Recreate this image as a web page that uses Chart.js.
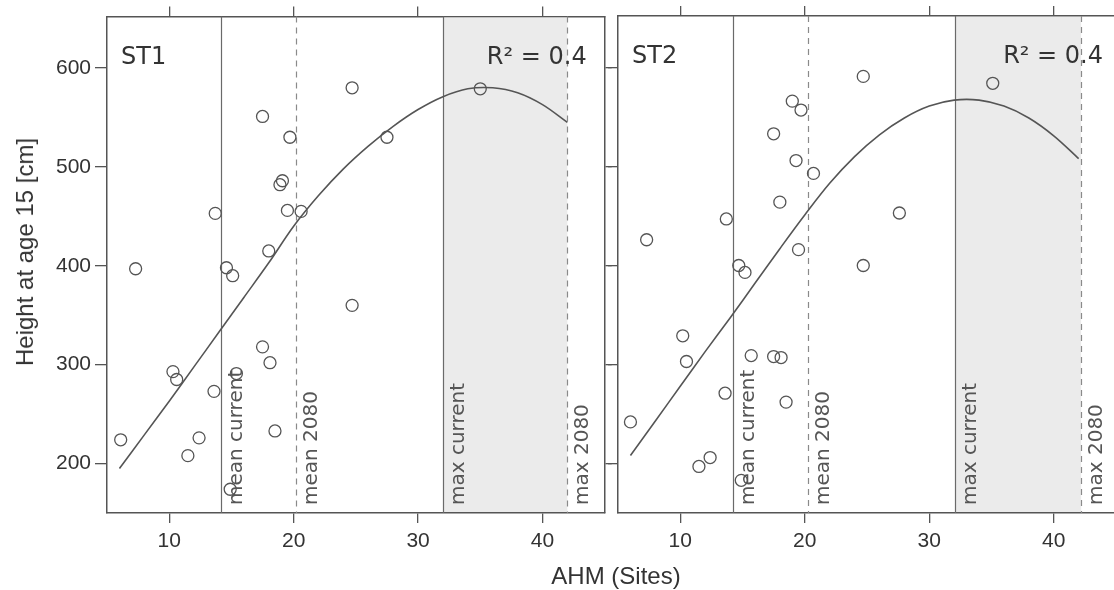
<!DOCTYPE html>
<html>
<head>
<meta charset="utf-8">
<script src="https://cdn.jsdelivr.net/npm/chart.js@4/dist/chart.umd.min.js"></script>
<style>
  html, body { margin: 0; padding: 0; background: #fff; overflow: hidden; }
  #wrap { position: relative; width: 1114px; height: 590px; overflow: hidden; }
  .panel { position: absolute; top: 0; height: 590px; }
  #p1 { left: 0; width: 612px; }
  #p2 { left: 600px; width: 530px; }
  .axTitle { position: absolute; font: 24px "Liberation Sans", Arial, sans-serif; color: #333; white-space: nowrap; line-height: 1; }
  #yTitle { left: 25px; top: 252px; transform: translate(-50%, -50%) rotate(-90deg); }
  #xTitle { left: 616px; top: 576px; transform: translate(-50%, -50%); }
</style>
</head>
<body>
<div id="wrap">
  <div class="panel" id="p1"><canvas id="chart1"></canvas></div>
  <div class="panel" id="p2"><canvas id="chart2"></canvas></div>
  <div class="axTitle" id="yTitle">Height at age 15 [cm]</div>
  <div class="axTitle" id="xTitle">AHM (Sites)</div>
</div>
<script>
// ticks
const xTicks = [10, 20, 30, 40];
const yTicks = [200, 300, 400, 500, 600];

// reference lines (AHM)
const lineNames = ["mean current", "mean 2080", "max current", "max 2080"];
const st1Lines = [14.2, 20.2, 32.0, 42.0];
const st2Lines = [14.2, 20.3, 32.1, 42.2];

// sites ST1
const st1X = [6.1, 7.3, 10.3, 10.6, 11.5, 12.4, 13.6, 13.7, 14.6, 15.1, 14.9, 15.4, 17.5, 17.5, 18.0, 18.1, 18.5, 18.9, 19.1, 19.7, 19.5, 20.6, 24.7, 24.7, 27.5, 35.0];
const st1Y = [224, 397, 293, 285, 208, 226, 273, 453, 398, 390, 174, 291, 551, 318, 415, 302, 233, 482, 486, 530, 456, 455, 580, 360, 530, 579];

// sites ST2
const st2X = [6.0, 7.3, 10.2, 10.5, 11.5, 12.4, 13.6, 13.7, 14.7, 15.2, 14.9, 15.7, 17.5, 17.5, 18.0, 18.1, 18.5, 19.0, 19.7, 19.3, 19.5, 20.7, 24.7, 24.7, 27.6, 35.1];
const st2Y = [242, 426, 329, 303, 197, 206, 271, 447, 400, 393, 183, 309, 533, 308, 464, 307, 262, 566, 557, 506, 416, 493, 591, 400, 453, 584];

// fitted curves
const fitX = [6, 8, 10, 12, 14, 16, 18, 20, 22, 24, 26, 28, 30, 32, 34, 36, 38, 40, 42];
const st1FitY = [195, 229, 263, 298, 333, 368, 403, 440, 471, 498, 521, 541, 558, 571, 579, 580, 575, 563, 545];
const st2FitY = [208, 243, 278, 313, 347, 382, 417, 451, 483, 510, 532, 549, 561, 567, 567, 561, 549, 531, 508];

const FRAME = "#555";
const tickFont = { family: "'Liberation Sans', Arial, sans-serif", size: 21 };

function pts(xs, ys) {
    return xs.map((x, i) => ({ x: x, y: ys[i] }));
}

// shading, reference lines and panel labels
const panelDeco = {
    id: "panelDeco",
    beforeDatasetsDraw(chart, args, opts) {
        const ctx = chart.ctx;
        const a = chart.chartArea;
        const sx = chart.scales.x;
        const l = opts.lines;
        ctx.save();
        // shaded band max current -> max 2080
        let x0 = sx.getPixelForValue(l[2]);
        let x1 = sx.getPixelForValue(l[3]);
        ctx.fillStyle = "#ebebeb";
        ctx.fillRect(x0, a.top + 1, x1 - x0, a.bottom - a.top - 2);
        l.forEach((v, i) => {
            let px = Math.round(sx.getPixelForValue(v)) + 0.5;
            ctx.beginPath();
            ctx.strokeStyle = i % 2 ? "#8a8a8a" : "#6a6a6a";
            ctx.lineWidth = 1.2;
            ctx.setLineDash(i % 2 ? [6, 5] : []);
            ctx.moveTo(px, a.top);
            ctx.lineTo(px, a.bottom);
            ctx.stroke();
        });
        ctx.restore();
    },
    afterDatasetsDraw(chart, args, opts) {
        const ctx = chart.ctx;
        const a = chart.chartArea;
        const sx = chart.scales.x;
        ctx.save();
        ctx.fillStyle = "#555";
        ctx.font = "20px 'DejaVu Sans'";
        ctx.textAlign = "left";
        ctx.textBaseline = "alphabetic";
        opts.lines.forEach((v, i) => {
            let px = sx.getPixelForValue(v);
            ctx.save();
            ctx.translate(px + 21, a.bottom - 8);
            ctx.rotate(-Math.PI / 2);
            ctx.fillText(lineNames[i], 0, 0);
            ctx.restore();
        });
        ctx.fillStyle = "#333";
        ctx.font = "24px 'DejaVu Sans'";
        ctx.fillText(opts.name, a.left + 14, a.top + 47);
        ctx.textAlign = "right";
        ctx.fillText(opts.r2, a.right - opts.r2Pad, a.top + 47);
        ctx.restore();
    }
};

function makePanel(canvasId, name, xs, ys, fy, lines, first) {
    const setTicks = (vals) => (s) => { s.ticks = vals.map(v => ({ value: v })); };
    return new Chart(document.getElementById(canvasId), {
        type: "scatter",
        data: {
            datasets: [
                {
                    label: name + " fit",
                    data: pts(fitX, fy),
                    showLine: true,
                    pointRadius: 0,
                    borderColor: "#555",
                    borderWidth: 1.6,
                    tension: 0.35,
                    order: 1
                },
                {
                    label: name,
                    data: pts(xs, ys),
                    pointRadius: 6,
                    pointBorderWidth: 1.3,
                    borderColor: "#555",
                    backgroundColor: "rgba(0,0,0,0)",
                    order: 0
                }
            ]
        },
        options: {
            responsive: false,
            animation: false,
            devicePixelRatio: 1,
            events: [],
            layout: { padding: { top: 0, right: first ? 0 : 14, bottom: 0, left: 0 } },
            plugins: {
                legend: { display: false },
                tooltip: { enabled: false },
                panelDeco: { name: name, r2: "R\u00b2 = 0.4", lines: lines, r2Pad: first ? 18 : 13 }
            },
            scales: {
                x: {
                    type: "linear", position: "bottom", min: 5, max: 45,
                    afterBuildTicks: setTicks(xTicks),
                    afterFit: s => { s.height = 77; },
                    ticks: { font: tickFont, color: "#333", padding: 6, autoSkip: false, maxRotation: 0 },
                    grid: { drawOnChartArea: false, tickLength: 10, color: FRAME, lineWidth: 1.3 },
                    border: { color: FRAME, width: 1.5 }
                },
                xTop: {
                    type: "linear", position: "top", min: 5, max: 45,
                    afterBuildTicks: setTicks(xTicks),
                    afterFit: s => { s.height = 16; },
                    ticks: { display: false },
                    grid: { drawOnChartArea: false, tickLength: 10, color: FRAME, lineWidth: 1.3 },
                    border: { color: FRAME, width: 1.5 }
                },
                y: {
                    type: "linear", position: "left", min: 150, max: 652,
                    afterBuildTicks: setTicks(yTicks),
                    afterFit: s => { s.width = first ? 107 : 18; },
                    ticks: { display: first, font: tickFont, color: "#333", padding: 4 },
                    grid: { drawOnChartArea: false, tickLength: first ? 12 : 10, color: FRAME, lineWidth: 1.3 },
                    border: { color: FRAME, width: 1.5 }
                },
                yRight: {
                    type: "linear", position: "right", min: 150, max: 652,
                    afterBuildTicks: setTicks(yTicks),
                    afterFit: s => { s.width = first ? 7 : 0; },
                    ticks: { display: false },
                    grid: { drawOnChartArea: false, tickLength: first ? 7 : 0, color: FRAME, lineWidth: 1.3 },
                    border: { color: FRAME, width: 1.5 }
                }
            }
        },
        plugins: [panelDeco]
    });
}

document.getElementById("chart1").width = 612;
document.getElementById("chart1").height = 590;
document.getElementById("chart2").width = 530;
document.getElementById("chart2").height = 590;

makePanel("chart1", "ST1", st1X, st1Y, st1FitY, st1Lines, true);
makePanel("chart2", "ST2", st2X, st2Y, st2FitY, st2Lines, false);
</script>
</body>
</html>
